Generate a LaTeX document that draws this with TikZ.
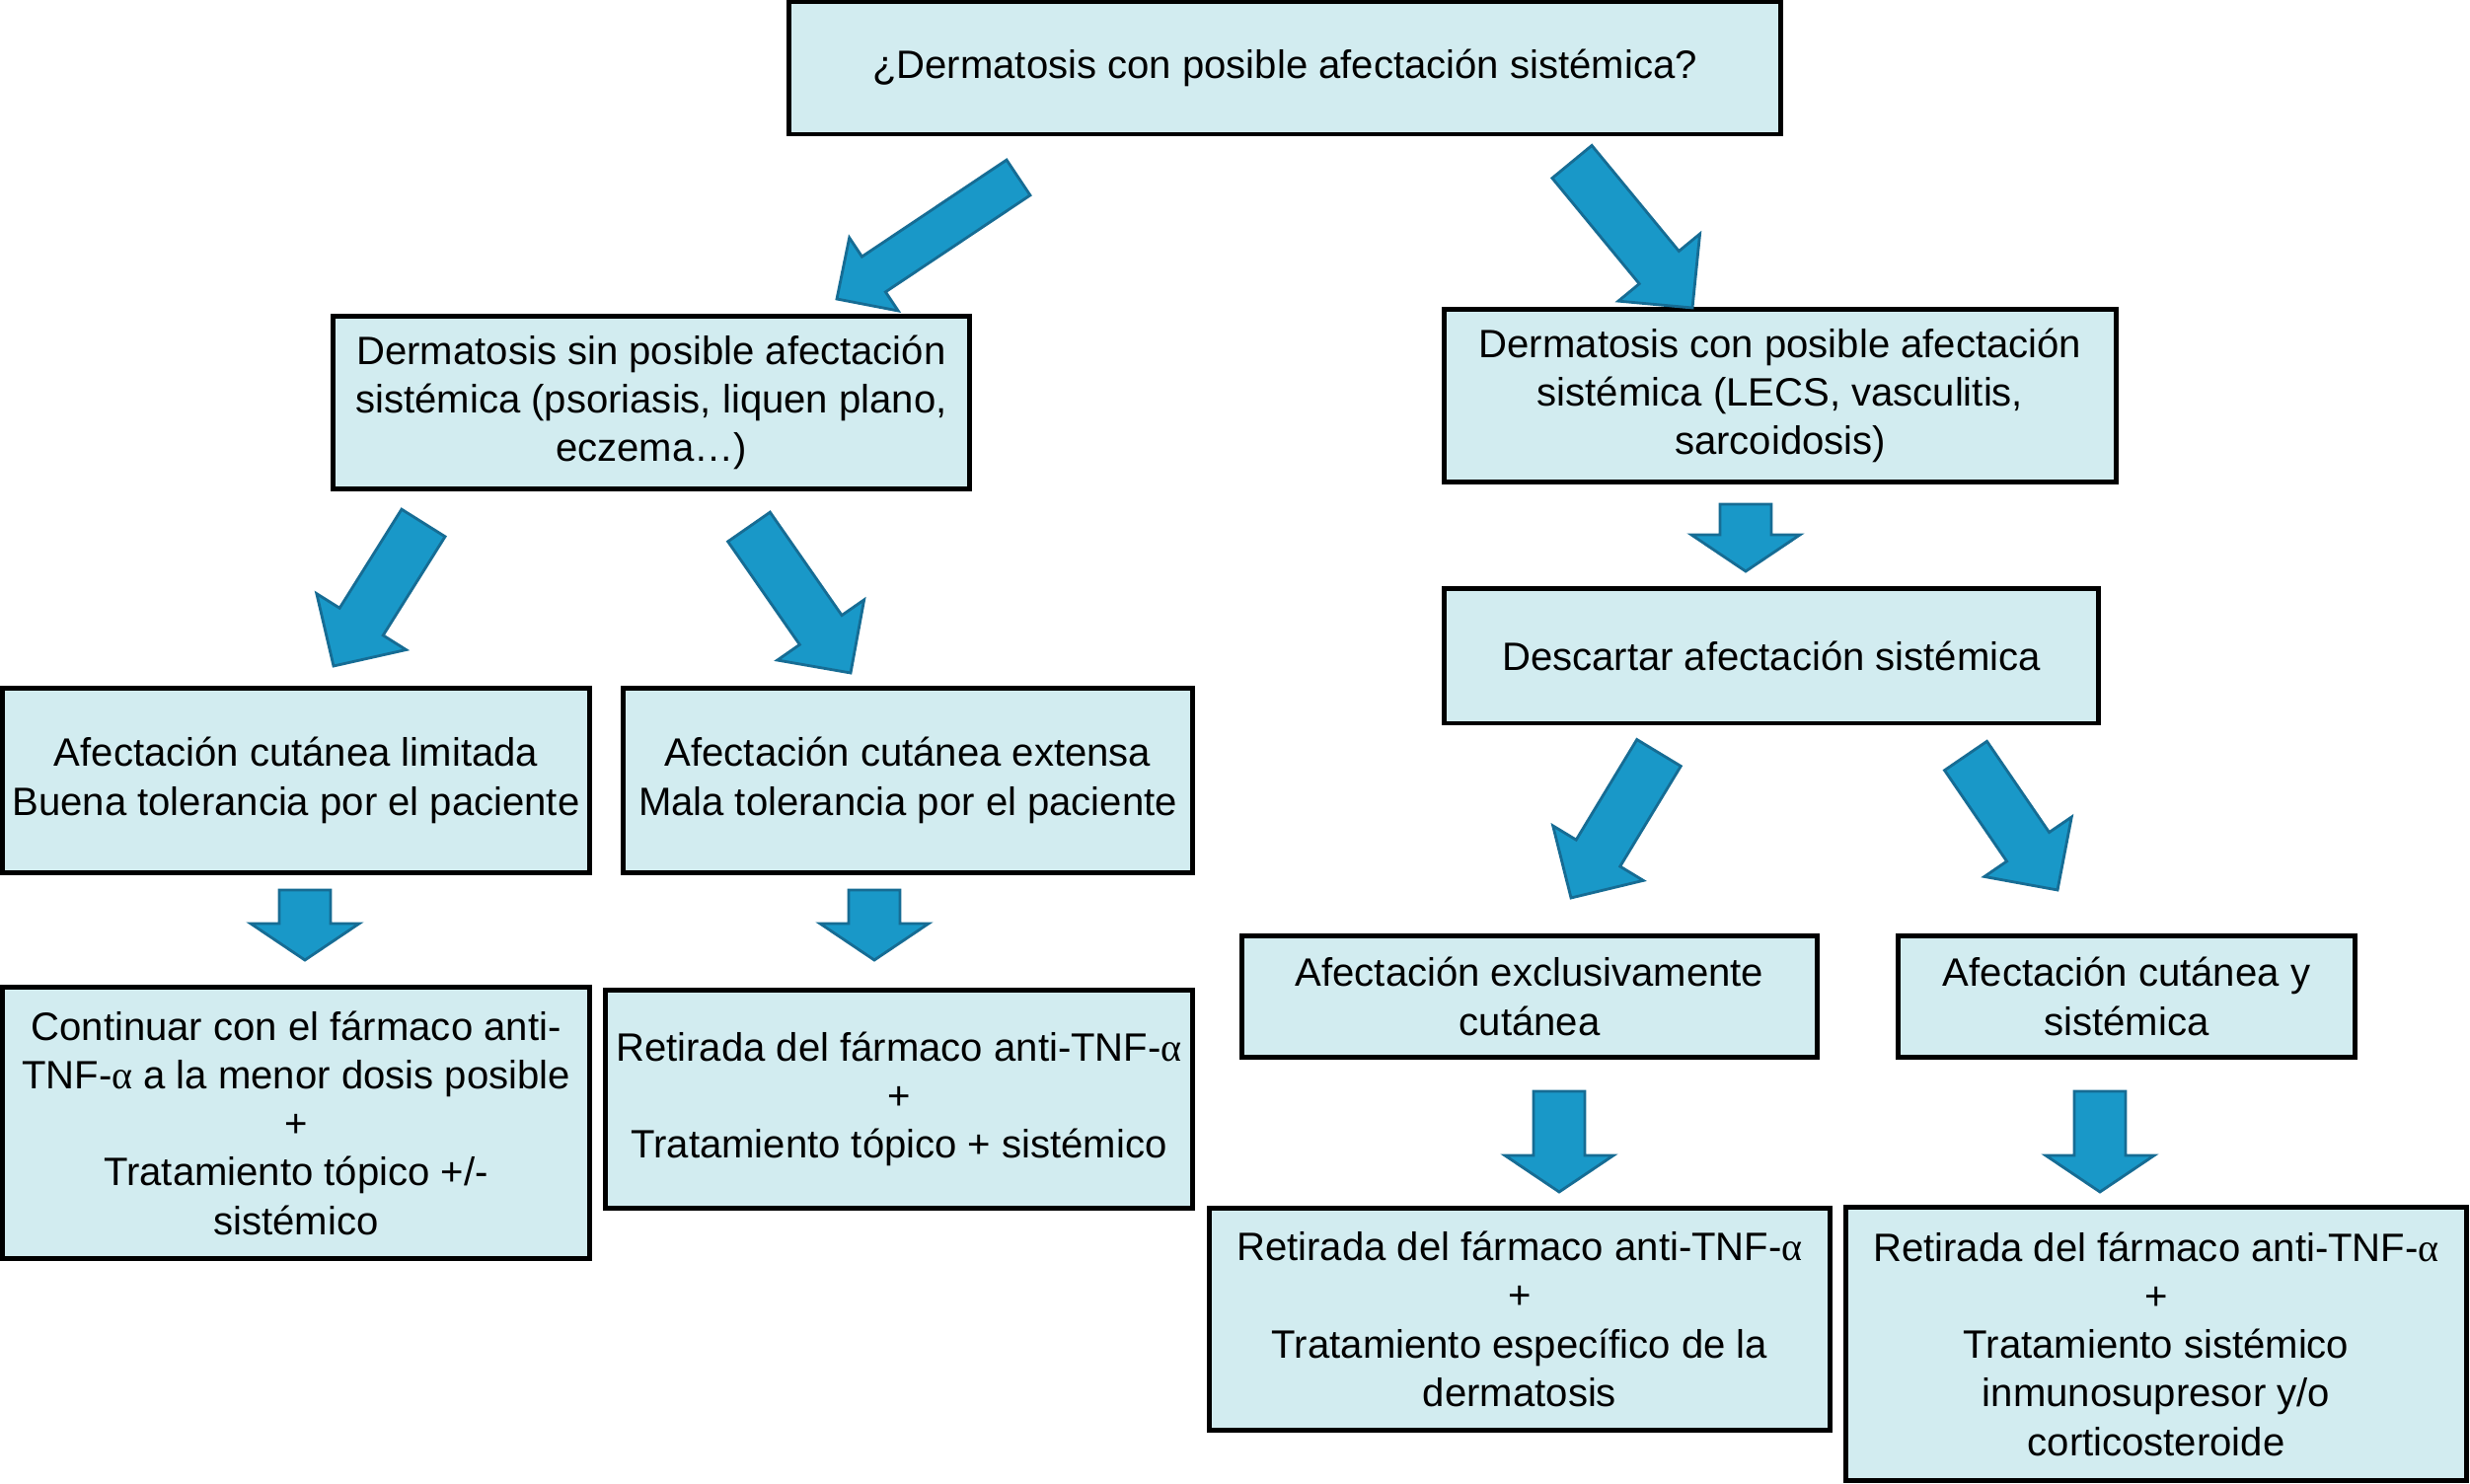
\documentclass[tikz,border=0pt]{standalone}
\usepackage{fontspec}
\setmainfont{Liberation Sans}
\newfontfamily\greekfont{Liberation Serif}
\usetikzlibrary{calc}
\definecolor{boxfill}{RGB}{210,236,240}
\definecolor{arrowfill}{RGB}{25,152,200}
\definecolor{arrowline}{RGB}{22,108,148}
\newcommand{\alf}{{\greekfont α}}
% block arrow from #1 to #2: half shaft, half head, head length
\newcommand{\fatarrow}[5]{%
  \coordinate (#2-b) at ($(#2)!#5!(#1)$);
  \draw[fat] ($(#1)!#3!90:(#2)$) -- ($(#2-b)!#3!90:(#2)$)
    -- ($(#2-b)!#4!90:(#2)$) -- (#2) -- ($(#2-b)!#4!-90:(#2)$)
    -- ($(#2-b)!#3!-90:(#2)$) -- ($(#1)!#3!-90:(#2)$) -- cycle;}

\begin{document}
\begin{tikzpicture}[x=0.01cm,y=-0.01cm,
    font=\fontsize{11.4}{14}\selectfont,
    box/.style={draw,fill=boxfill,line width=1.4pt,align=center,inner sep=0pt},
    fat/.style={fill=arrowfill,draw=arrowline,line width=0.8pt,line join=miter}]
  \useasboundingbox (0,0) rectangle (2503,1504);

  \node[box,minimum width=10.05cm,minimum height=1.34cm] (q) at (1302,69)
    {¿Dermatosis con posible afectación sistémica?};

  \node[box,minimum width=6.44cm,minimum height=1.75cm] (sin) at (660,408)
    {Dermatosis sin posible afectación\\sistémica (psoriasis, liquen plano,\\eczema…)};
  \node[box,minimum width=6.8cm,minimum height=1.74cm] (con) at (1804,401)
    {Dermatosis con posible afectación\\sistémica (LECS, vasculitis,\\sarcoidosis)};
  \node[box,minimum width=6.62cm,minimum height=1.36cm] (desc) at (1795,665)
    {Descartar afectación sistémica};

  \node[box,minimum width=5.95cm,minimum height=1.86cm] (lim) at (300,791)
    {Afectación cutánea limitada\\Buena tolerancia por el paciente};
  \node[box,minimum width=5.77cm,minimum height=1.86cm] (ext) at (920,791)
    {Afectación cutánea extensa\\Mala tolerancia por el paciente};
  \node[box,minimum width=5.95cm,minimum height=2.74cm] (cont) at (300,1138)
    {Continuar con el fármaco anti-\\TNF-\alf{} a la menor dosis posible\\+\\Tratamiento tópico +/-\\sistémico};
  \node[box,minimum width=5.95cm,minimum height=2.2cm] (ret1) at (911,1114)
    {Retirada del fármaco anti-TNF-\alf\\+\\Tratamiento tópico + sistémico};

  \node[box,minimum width=5.82cm,minimum height=1.23cm] (excl) at (1550,1010)
    {Afectación exclusivamente\\cutánea};
  \node[box,minimum width=4.62cm,minimum height=1.23cm] (cys) at (2155,1010)
    {Afectación cutánea y\\sistémica};
  \node[box,minimum width=6.29cm,minimum height=2.25cm] (ret2) at (1540,1337)
    {Retirada del fármaco anti-TNF-\alf\\+\\Tratamiento específico de la\\dermatosis};
  \node[box,minimum width=6.29cm,minimum height=2.76cm] (ret3) at (2185,1362)
    {Retirada del fármaco anti-TNF-\alf\\+\\Tratamiento sistémico\\inmunosupresor y/o\\corticosteroide};

  % slanted arrows
  \coordinate (ta) at (1032,180);
  \coordinate (pa) at (848,303);
  \fatarrow{ta}{pa}{0.215cm}{0.445cm}{0.45cm}
  \foreach \n/\tx/\ty/\px/\py in {b/1593/164/1715/312, c/429/530/338/675,
      d/759/534/862/682, e/1681/763/1592/910, f/1992/766/2085/902} {
    \coordinate (t\n) at (\tx,\ty);
    \coordinate (p\n) at (\px,\py);
    \fatarrow{t\n}{p\n}{0.26cm}{0.535cm}{0.53cm}
  }

  % straight arrows
  \foreach \n/\x/\ty/\py in {lim/309/902/973, ext/886/902/973, con/1769/511/579,
      excl/1580/1106/1208, cys/2128/1106/1208} {
    \coordinate (\n-t) at (\x,\ty);
    \coordinate (\n-p) at (\x,\py);
    \fatarrow{\n-t}{\n-p}{0.26cm}{0.55cm}{0.37cm}
  }
\end{tikzpicture}
\end{document}
